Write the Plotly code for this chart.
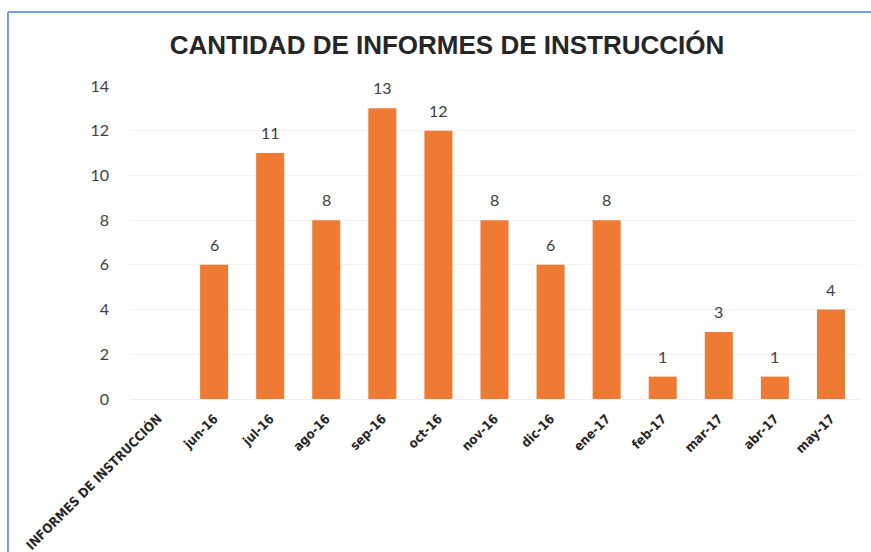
import plotly.graph_objects as go

categories = ["INFORMES DE INSTRUCCIÓN", "jun-16", "jul-16", "ago-16", "sep-16", "oct-16",
              "nov-16", "dic-16", "ene-17", "feb-17", "mar-17", "abr-17", "may-17"]
values = [None, 6, 11, 8, 13, 12, 8, 6, 8, 1, 3, 1, 4]
y_ticks = [0, 2, 4, 6, 8, 10, 12, 14]
title_text = "CANTIDAD DE INFORMES DE INSTRUCCIÓN"

fig = go.Figure()
fig.add_trace(go.Bar(
    x=categories, y=values, width=0.5,
    marker=dict(color="#EE7A33", line=dict(width=0)),
    hoverinfo="x+y",
))

for c, v in zip(categories, values):
    if v is None:
        continue
    fig.add_annotation(x=c, y=v, text=str(v), showarrow=False, yanchor="bottom",
                       yshift=9, font=dict(family="Lato, Open Sans, sans-serif", size=16, color="#404040"))

W, H = 871, 552
ml, mr, mt, mb = 130, 12, 86, 153
pw, ph = W - ml - mr, H - mt - mb
bx = (8 - ml) / pw
by = 1 + (mt - 12) / ph
fig.add_shape(type="line", xref="paper", yref="paper", x0=bx, x1=bx, y0=-1, y1=by,
              line=dict(color="#6FA3DC", width=2))
fig.add_shape(type="line", xref="paper", yref="paper", x0=bx, x1=1.5, y0=by, y1=by,
              line=dict(color="#6FA3DC", width=2))

fig.update_layout(
    width=W, height=H,
    margin=dict(l=ml, r=mr, t=mt, b=mb, autoexpand=False),
    paper_bgcolor="white", plot_bgcolor="white",
    showlegend=False,
    title=dict(text=f"<b>{title_text}</b>", x=447 / W, xanchor="center",
               y=1 - 45 / H, yanchor="middle",
               font=dict(family="Liberation Sans Narrow, Liberation Sans, Arial, sans-serif", size=26, color="#262626")),
    xaxis=dict(type="category", tickangle=-45, showgrid=False, showline=True, automargin=False,
               linecolor="#EDEDED", linewidth=1, ticks="", ticklabelstandoff=6,
               tickfont=dict(family="DejaVu Sans Condensed, Liberation Sans Narrow, sans-serif",
                             size=13, color="#262626", weight="bold")),
    yaxis=dict(range=[0, 14], tickvals=y_ticks, showgrid=True, gridcolor="#F2F2F2", automargin=False,
               zeroline=False, showline=False, ticks="", ticklabelstandoff=20,
               tickfont=dict(family="Lato, Open Sans, sans-serif", size=16, color="#404040")),
)

fig.write_html("out.html", config={"displayModeBar": False},
               post_script="document.body.style.margin='0';document.body.style.overflow='hidden';")
